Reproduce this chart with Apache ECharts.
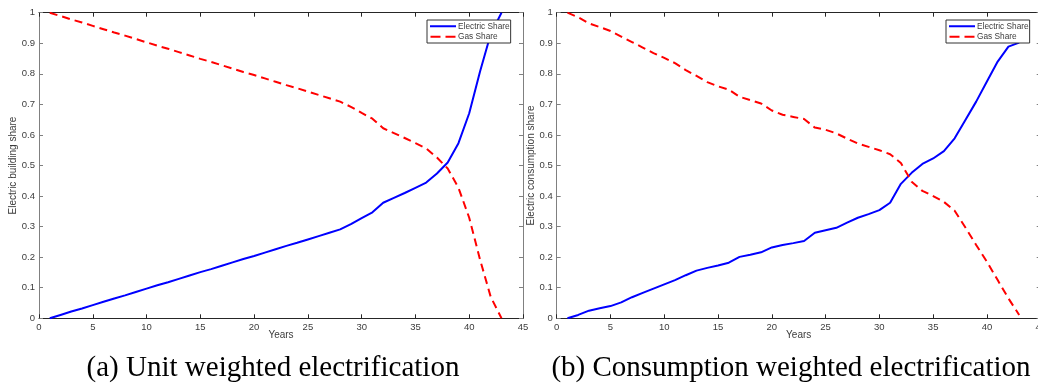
<!DOCTYPE html>
<html>
<head>
<meta charset="utf-8">
<script src="https://cdn.jsdelivr.net/npm/echarts@6/dist/echarts.min.js"></script>
<style>
html,body{margin:0;padding:0;background:#fff;}
#chart{width:1038px;height:387px;}
</style>
</head>
<body>
<div id="chart"></div>
<script>
const years = [1,2,3,4,5,6,7,8,9,10,11,12,13,14,15,16,17,18,19,20,21,22,23,24,25,26,27,28,29,30,31,32,33,34,35,36,37,38,39,40,41,42,43];
const electricUnit = [0,0.011,0.022,0.032,0.043,0.054,0.065,0.075,0.086,0.097,0.108,0.118,0.129,0.140,0.151,0.161,0.172,0.183,0.194,0.204,0.215,0.226,0.237,0.247,0.258,0.269,0.280,0.291,0.308,0.328,0.347,0.378,0.394,0.410,0.427,0.444,0.474,0.510,0.573,0.671,0.807,0.930,1.0];
const gasUnit = [1.0,0.989,0.978,0.968,0.957,0.946,0.935,0.925,0.914,0.903,0.892,0.882,0.871,0.860,0.849,0.839,0.828,0.817,0.806,0.796,0.785,0.774,0.763,0.753,0.742,0.731,0.720,0.709,0.692,0.672,0.653,0.622,0.606,0.590,0.573,0.556,0.526,0.490,0.427,0.329,0.193,0.070,0.0];
const electricCons = [0,0.011,0.025,0.033,0.040,0.052,0.069,0.083,0.097,0.111,0.125,0.141,0.156,0.165,0.173,0.182,0.201,0.208,0.216,0.232,0.240,0.246,0.253,0.280,0.288,0.296,0.313,0.329,0.341,0.354,0.378,0.440,0.476,0.505,0.523,0.547,0.589,0.649,0.709,0.775,0.840,0.889,0.902];
const gasCons = [1.0,0.985,0.965,0.953,0.940,0.922,0.904,0.886,0.868,0.852,0.835,0.812,0.793,0.773,0.759,0.748,0.725,0.714,0.703,0.680,0.666,0.659,0.652,0.624,0.617,0.605,0.588,0.572,0.561,0.550,0.537,0.508,0.447,0.417,0.400,0.381,0.352,0.297,0.240,0.185,0.125,0.065,0.011];
const seriesNames = ['Electric Share', 'Gas Share'];
const yAxisTitles = ['Electric building share', 'Electric consumption share'];
const xAxisTitle = 'Years';
const captions = ['(a) Unit weighted electrification', '(b) Consumption weighted electrification'];

const pairs = (xs, ys) => xs.map((x, i) => [x, ys[i]]);
const chart = echarts.init(document.getElementById('chart'));

const FONT = 'Liberation Sans, Arial, sans-serif';
const PH = 305.6, TOP = 12.7, W = 484;
const grids = [
  {left: 39, top: TOP, width: W, height: PH, containLabel: false, outerBoundsMode: 'none'},
  {left: 556.7, top: TOP, width: W, height: PH, containLabel: false, outerBoundsMode: 'none'}
];
const yNameGaps = [20.5, 20];
const labelStyle = {color: '#3c3c3c', fontSize: 9.5, fontFamily: FONT};
const xAxes = [], yAxes = [];
grids.forEach((g, gi) => {
  xAxes.push({
    type: 'value', gridIndex: gi, min: 0, max: 45, interval: 5, position: 'bottom',
    name: xAxisTitle, nameLocation: 'middle', nameGap: 12, nameMoveOverlap: false,
    nameTextStyle: {color: '#3c3c3c', fontSize: 10, fontFamily: FONT},
    axisLine: {show: true, onZero: false, lineStyle: {color: '#262626', width: 1}},
    axisTick: {show: true, inside: true, length: 4, lineStyle: {color: '#262626'}},
    axisLabel: Object.assign({margin: 4}, labelStyle),
    splitLine: {show: false}
  });
  xAxes.push({
    type: 'value', gridIndex: gi, min: 0, max: 45, interval: 5, position: 'top',
    axisLine: {show: true, onZero: false, lineStyle: {color: '#262626', width: 1}},
    axisTick: {show: true, inside: true, length: 4, lineStyle: {color: '#262626'}},
    axisLabel: {show: false}, splitLine: {show: false}
  });
  yAxes.push({
    type: 'value', gridIndex: gi, min: 0, max: 1, interval: 0.1, position: 'left',
    name: yAxisTitles[gi], nameLocation: 'middle', nameGap: yNameGaps[gi], nameMoveOverlap: false,
    nameTextStyle: {color: '#3c3c3c', fontSize: 10, fontFamily: FONT},
    axisLine: {show: true, onZero: false, lineStyle: {color: '#808080', width: 1}},
    axisTick: {show: true, inside: true, length: 4, lineStyle: {color: '#808080'}},
    axisLabel: Object.assign({margin: 4}, labelStyle),
    splitLine: {show: false}
  });
  yAxes.push({
    type: 'value', gridIndex: gi, min: 0, max: 1, interval: 0.1, position: 'right',
    axisLine: {show: true, onZero: false, lineStyle: {color: '#808080', width: 1}},
    axisTick: {show: true, inside: true, length: 4, lineStyle: {color: '#808080'}},
    axisLabel: {show: false}, splitLine: {show: false}
  });
});

function mk(name, data, gi, color, dashed) {
  return {
    name: name, type: 'line', xAxisIndex: gi * 2, yAxisIndex: gi * 2,
    data: data, symbol: 'none', smooth: false, animation: false,
    lineStyle: {color: color, width: 2, type: dashed ? [8, 5] : 'solid'},
    itemStyle: {color: color}
  };
}

const legendItems = [
  {name: seriesNames[0], icon: 'path://M0,0H26V2H0Z'},
  {name: seriesNames[1], icon: 'path://M0,0H10V2H0Z M15,0H25V2H15Z'}
];
const legendBase = {
  orient: 'vertical', top: 20, itemWidth: 26, itemHeight: 2, itemGap: 2,
  padding: [2, 1, 2, 3], borderColor: '#333', borderWidth: 1, backgroundColor: '#fff',
  textStyle: {color: '#3c3c3c', fontSize: 8.3, lineHeight: 8.5, fontFamily: FONT, padding: [0, 0, 0, -3]},
  data: legendItems
};

const captionStyle = {fontFamily: 'Liberation Serif, Times New Roman, serif', fontWeight: 'normal', fontSize: 29, color: '#000'};
chart.setOption({
  animation: false,
  grid: grids,
  xAxis: xAxes,
  yAxis: yAxes,
  legend: [
    Object.assign({left: 427}, legendBase),
    Object.assign({left: 946}, legendBase)
  ],
  title: [
    {text: captions[0], left: 268, top: 349, textAlign: 'center', textStyle: captionStyle},
    {text: captions[1], left: 786, top: 349, textAlign: 'center', textStyle: captionStyle}
  ],
  series: [
    mk(seriesNames[0], pairs(years, electricUnit), 0, '#0000ff', false),
    mk(seriesNames[1], pairs(years, gasUnit), 0, '#ff0000', true),
    mk(seriesNames[0], pairs(years, electricCons), 1, '#0000ff', false),
    mk(seriesNames[1], pairs(years, gasCons), 1, '#ff0000', true)
  ]
});
</script>
</body>
</html>
